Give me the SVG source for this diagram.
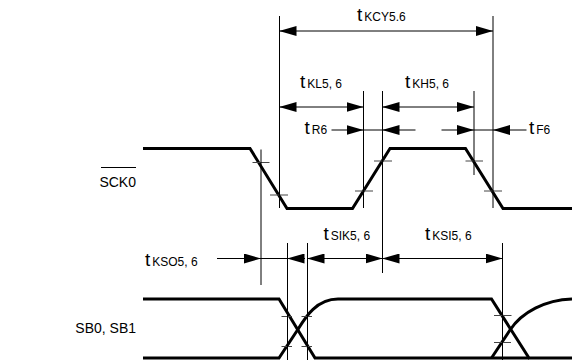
<svg xmlns="http://www.w3.org/2000/svg" width="572" height="364" viewBox="0 0 572 364">
<style>
.sig{fill:none;stroke:#000;stroke-width:3;stroke-linejoin:miter}
.ln{fill:none;stroke:#000;stroke-width:1}
.tk{fill:none;stroke:#444;stroke-width:1}
.dim{fill:none;stroke:#000;stroke-width:1}
.arr{marker-start:url(#ah);marker-end:url(#ah)}
.arrE{marker-end:url(#ah)}
text{font-family:"Liberation Sans",Arial,sans-serif;fill:#000}
.t{font-size:19px}
.s{font-size:12px}
.lbl{font-size:14px}
</style>
<defs>
<marker id="ah" viewBox="0 0 17 10" refX="17" refY="5" markerWidth="17" markerHeight="10" markerUnits="userSpaceOnUse" orient="auto-start-reverse">
<path d="M0,0 L17,5 L0,10 z" fill="#000"/>
</marker>
</defs>

<g id="labels">
<text class="lbl" x="136" y="187" text-anchor="end">SCK0</text>
<line class="ln" x1="101" y1="167.5" x2="136" y2="167.5"/>
<text class="lbl" x="136" y="333" text-anchor="end">SB0, SB1</text>
</g>

<g id="sck0">
<path class="sig" d="M143,148.5 L250,148.5 L287,208.5 L352.5,208.5 L390,148.5 L465.5,148.5 L503,208.5 L572,208.5"/>
<g class="tk">
<line x1="252.5" y1="162.5" x2="269.5" y2="162.5"/>
<line x1="270" y1="195" x2="288" y2="195"/>
<line x1="355" y1="191" x2="373" y2="191"/>
<line x1="374" y1="161" x2="392" y2="161"/>
<line x1="465.5" y1="161" x2="483" y2="161"/>
<line x1="484" y1="191" x2="502" y2="191"/>
</g>
</g>

<g id="sb">
<path class="sig" d="M143,299 L279,299 L315,358 L491.5,358 L529,358"/>
<path class="sig" d="M143,358 L279,358 L297.5,330 C305,318 316,299 338,299 L491.5,299 L529,358 L572,358"/>
<path class="sig" d="M491.5,358 L510,330 C522,312 545,300 572,299"/>
<g class="tk">
<line x1="281.5" y1="316.5" x2="292" y2="316.5"/>
<line x1="301.5" y1="316.5" x2="312" y2="316.5"/>
<line x1="281.5" y1="346.5" x2="292" y2="346.5"/>
<line x1="301.5" y1="346.5" x2="312" y2="346.5"/>
<line x1="494" y1="315.5" x2="511.5" y2="315.5"/>
<line x1="494" y1="342.5" x2="511" y2="342.5"/>
</g>
</g>

<g id="refs">
<line class="ln" x1="261" y1="149.5" x2="261" y2="285"/>
<line class="ln" x1="279.5" y1="16" x2="279.5" y2="208"/>
<line class="ln" x1="363.5" y1="91" x2="363.5" y2="208"/>
<line class="ln" x1="382.5" y1="91" x2="382.5" y2="273"/>
<line class="ln" x1="474" y1="91" x2="474" y2="175"/>
<line class="ln" x1="493" y1="16" x2="493" y2="208"/>
<line class="ln" x1="287.5" y1="243" x2="287.5" y2="360"/>
<line class="ln" x1="307.5" y1="243" x2="307.5" y2="360"/>
<line class="ln" x1="502.5" y1="243" x2="502.5" y2="360"/>
</g>

<g id="connectors">
<line class="dim arr" x1="279.5" y1="31" x2="493" y2="31"/>
<line class="dim arr" x1="279.5" y1="107" x2="363.5" y2="107"/>
<line class="dim arr" x1="382.5" y1="107" x2="474" y2="107"/>
<line class="dim arrE" x1="331.5" y1="130" x2="363.5" y2="130"/>
<line class="dim" x1="363.5" y1="130" x2="382.5" y2="130"/>
<line class="dim arrE" x1="415.5" y1="130" x2="382.5" y2="130"/>
<line class="dim arrE" x1="441.5" y1="130" x2="474" y2="130"/>
<line class="dim" x1="474" y1="130" x2="493" y2="130"/>
<line class="dim arrE" x1="526.5" y1="130" x2="493" y2="130"/>
<line class="dim arrE" x1="217" y1="258.5" x2="261" y2="258.5"/>
<line class="dim" x1="261" y1="258.5" x2="287.5" y2="258.5"/>
<line class="dim arrE" x1="305" y1="258.5" x2="287.5" y2="258.5"/>
<line class="dim arr" x1="307.5" y1="258.5" x2="382.5" y2="258.5"/>
<line class="dim arr" x1="382.5" y1="258.5" x2="502.5" y2="258.5"/>
</g>

<g id="timing-labels">
<text x="357" y="21"><tspan class="t">t</tspan><tspan class="s" dx="2">KCY5.6</tspan></text>
<text x="300" y="88"><tspan class="t">t</tspan><tspan class="s" dx="2">KL5, 6</tspan></text>
<text x="405" y="88"><tspan class="t">t</tspan><tspan class="s" dx="2">KH5, 6</tspan></text>
<text x="304.5" y="133.5"><tspan class="t">t</tspan><tspan class="s" dx="2">R6</tspan></text>
<text x="529" y="133.5"><tspan class="t">t</tspan><tspan class="s" dx="2">F6</tspan></text>
<text x="323.5" y="240"><tspan class="t">t</tspan><tspan class="s" dx="2">SIK5, 6</tspan></text>
<text x="425" y="240"><tspan class="t">t</tspan><tspan class="s" dx="2">KSI5, 6</tspan></text>
<text x="145" y="266"><tspan class="t">t</tspan><tspan class="s" dx="2">KSO5, 6</tspan></text>
</g>
</svg>
